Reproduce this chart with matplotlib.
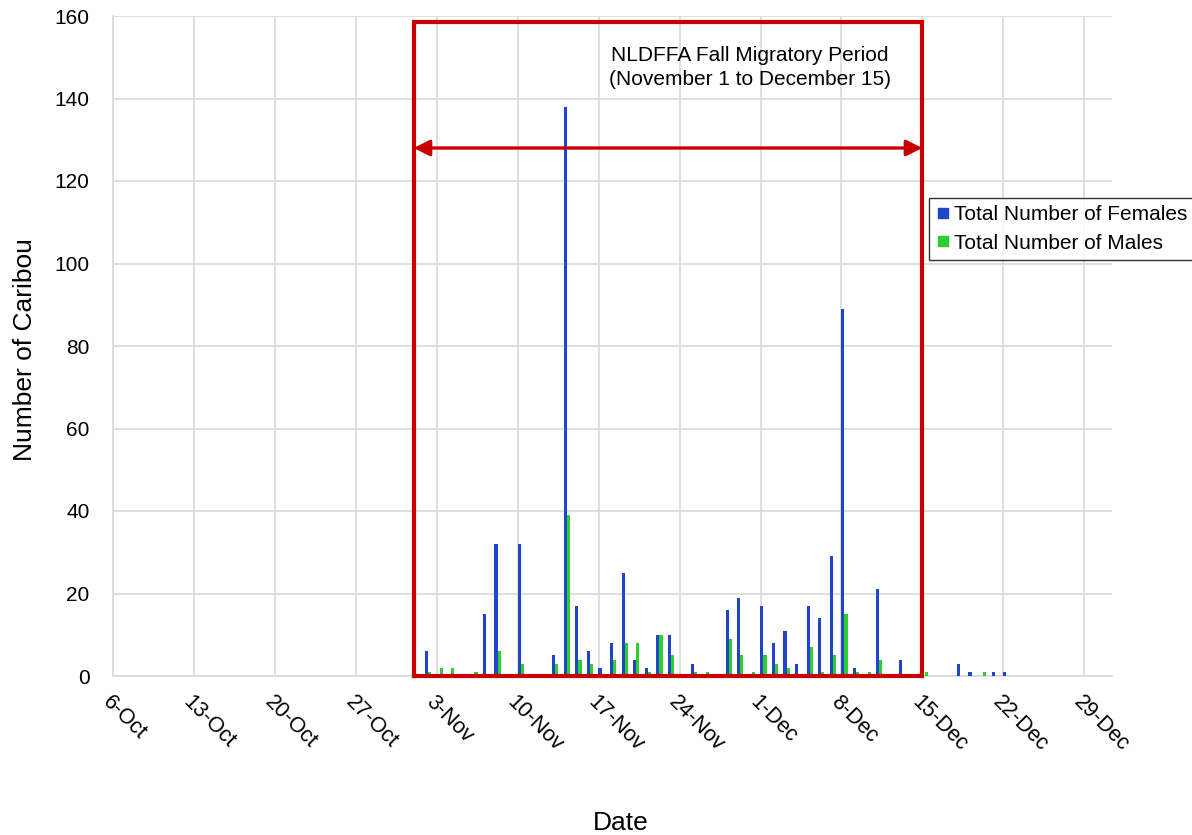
import matplotlib
matplotlib.use("Agg")
import matplotlib.pyplot as plt
import pandas as pd
from matplotlib.lines import Line2D

plt.rcParams['font.family'] = ['Liberation Sans', 'DejaVu Sans']

# ---- data ----
dates = ["2013-11-02", "2013-11-03", "2013-11-04", "2013-11-06", "2013-11-07",
         "2013-11-08", "2013-11-10", "2013-11-13", "2013-11-14", "2013-11-15",
         "2013-11-16", "2013-11-17", "2013-11-18", "2013-11-19", "2013-11-20",
         "2013-11-21", "2013-11-22", "2013-11-23", "2013-11-25", "2013-11-26",
         "2013-11-28", "2013-11-29", "2013-11-30", "2013-12-01", "2013-12-02",
         "2013-12-03", "2013-12-04", "2013-12-05", "2013-12-06", "2013-12-07",
         "2013-12-08", "2013-12-09", "2013-12-10", "2013-12-11", "2013-12-13",
         "2013-12-15", "2013-12-18", "2013-12-19", "2013-12-20", "2013-12-21",
         "2013-12-22"]
females = [6, 0, 0, 0, 15, 32, 32, 5, 138, 17, 6, 2, 8, 25, 4, 2, 10, 10, 3, 0,
           16, 19, 0, 17, 8, 11, 3, 17, 14, 29, 89, 2, 0, 21, 4, 0, 3, 1, 0, 1, 1]
males = [1, 2, 2, 1, 0, 6, 3, 3, 39, 4, 3, 0, 4, 8, 8, 1, 10, 5, 1, 1,
         9, 5, 1, 5, 3, 2, 0, 7, 1, 5, 15, 1, 1, 4, 0, 1, 0, 0, 1, 0, 0]
tick_labels = ["6-Oct", "13-Oct", "20-Oct", "27-Oct", "3-Nov", "10-Nov", "17-Nov",
               "24-Nov", "1-Dec", "8-Dec", "15-Dec", "22-Dec", "29-Dec"]
axis_start = "2013-10-06"
period_start = "2013-11-01"
period_end = "2013-12-15"
series_names = ["Total Number of Females", "Total Number of Males"]
annotation = "NLDFFA Fall Migratory Period\n(November 1 to December 15)"

# ---- convert dates to day offsets ----
t0 = pd.Timestamp(axis_start)
days = [(pd.Timestamp(d) - t0).days for d in dates]
p0 = (pd.Timestamp(period_start) - t0).days
p1 = (pd.Timestamp(period_end) - t0).days

blue = '#1f45c8'
green = '#2ccf2c'
red = '#c80000'
grid_c = '#d9d9d9'

fig = plt.figure(figsize=(11.92, 8.35), dpi=100)
ax = fig.add_axes([113/1192, 1 - 676/835, (1112-113)/1192, (676-16)/835])

w = 0.27
ax.bar([d + 0.12 for d in days], females, width=w, color=blue, zorder=3, linewidth=0)
ax.bar([d + 0.39 for d in days], males, width=w, color=green, zorder=3, linewidth=0)

ax.set_xlim(0, 86.4)
ax.set_ylim(0, 160)
ax.set_yticks(range(0, 161, 20))
ax.set_xticks([7 * i for i in range(len(tick_labels))])
ax.set_xticklabels(tick_labels, rotation=-45, ha='left', va='top',
                   rotation_mode='anchor', fontsize=15.5)
ax.tick_params(axis='x', length=0, pad=11)
ax.tick_params(axis='y', length=0, pad=17, labelsize=15)
ax.grid(True, color=grid_c, linewidth=1.2, zorder=0)
for s in ['top', 'right']:
    ax.spines[s].set_visible(False)
for s in ['left', 'bottom']:
    ax.spines[s].set_color(grid_c)
    ax.spines[s].set_linewidth(1.2)

fig.text(25/1192, 1 - 350/835, "Number of Caribou", rotation=90,
         ha='center', va='center', fontsize=19)
fig.text(621/1192, 1 - 823/835, "Date", ha='center', va='center', fontsize=19)

# red period box
ax.plot([p0, p0, p1, p1, p0], [0, 158.5, 158.5, 0, 0], color=red, linewidth=3.0,
        zorder=5, clip_on=False, solid_joinstyle='miter')
ax.annotate("", xy=(p0, 128), xytext=(p1, 128),
            arrowprops=dict(arrowstyle='<|-|>', color=red, lw=2.4,
                            mutation_scale=24, shrinkA=0, shrinkB=0), zorder=6)
ax.text(55.1, 147.6, annotation, ha='center', va='center', fontsize=15,
        linespacing=1.35, zorder=6)

handles = [Line2D([], [], marker='s', linestyle='none', markersize=7.5,
                  markerfacecolor=blue, markeredgecolor=blue),
           Line2D([], [], marker='s', linestyle='none', markersize=7.5,
                  markerfacecolor=green, markeredgecolor=green)]
leg = fig.legend(handles, series_names, loc='upper left',
                 bbox_to_anchor=(929/1192, 1 - 198/835), fontsize=15,
                 frameon=True, fancybox=False, edgecolor='black',
                 handlelength=0.6, handletextpad=0.25, borderpad=0.35,
                 labelspacing=0.45, borderaxespad=0)
leg.get_frame().set_linewidth(1.0)

fig.savefig("out.png", dpi=100)
